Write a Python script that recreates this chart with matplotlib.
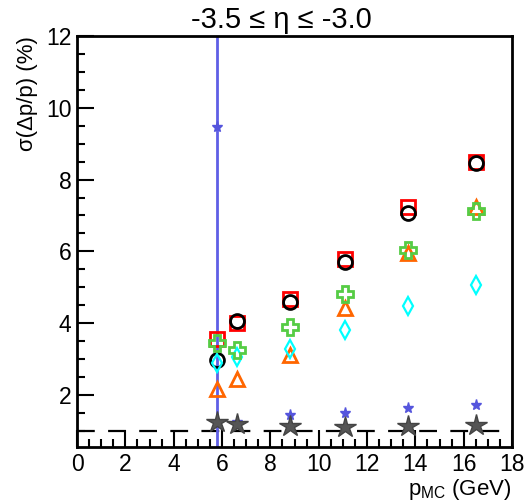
import matplotlib
matplotlib.use("Agg")
from matplotlib import pyplot as plt
from matplotlib.ticker import MultipleLocator

plt.rcParams['font.family'] = ['Liberation Sans', 'DejaVu Sans']
plt.rcParams['mathtext.fontset'] = 'custom'
plt.rcParams['mathtext.rm'] = 'Liberation Sans'

# momentum points (GeV)
p_mc = [5.8, 6.6, 8.8, 11.1, 13.7, 16.5]

# resolution sigma(dp/p) in %, one list per series
res_square = [3.55, 4.00, 4.68, 5.80, 7.23, 8.50]
res_circle = [2.97, 4.06, 4.60, 5.70, 7.08, 8.45]
res_cross = [3.44, 3.25, 3.90, 4.80, 6.03, 7.12]
res_triangle = [2.17, 2.44, 3.10, 4.43, 5.95, 7.23]
res_diamond = [2.90, 3.05, 3.28, 3.82, 4.48, 5.06]
res_smallstar = [9.47, 1.25, 1.44, 1.49, 1.63, 1.72]
res_bigstar = [1.26, 1.19, 1.14, 1.12, 1.14, 1.16]

# the first small-star point has a huge error bar
err_smallstar = [12.0, 0, 0, 0, 0, 0]

fig = plt.figure(figsize=(5.26, 5.03), dpi=100)
ax = fig.add_axes([0.1464, 0.1113, 0.8270, 0.8171])

ax.axhline(1.0, color='black', linewidth=1.6, dashes=(8, 6), zorder=1)

ax.errorbar(p_mc, res_smallstar, yerr=err_smallstar, fmt='none',
            ecolor='#5f5fe6', elinewidth=2, zorder=2)

ax.plot(p_mc, res_square, 's', markersize=10, markerfacecolor='none',
        markeredgecolor='#ff0000', markeredgewidth=2, zorder=3)
ax.plot(p_mc, res_circle, 'o', markersize=10, markerfacecolor='none',
        markeredgecolor='black', markeredgewidth=2, zorder=3)
ax.plot(p_mc, res_cross, 'P', markersize=11, markerfacecolor='none',
        markeredgecolor='#55cc44', markeredgewidth=2, zorder=4)
ax.plot(p_mc, res_triangle, '^', markersize=10, markerfacecolor='none',
        markeredgecolor='#ff6600', markeredgewidth=2, zorder=3)
ax.plot(p_mc, res_diamond, 'd', markersize=9, markerfacecolor='none',
        markeredgecolor='#00ffff', markeredgewidth=1.6, zorder=3)
ax.plot(p_mc, res_smallstar, '*', markersize=8, color='#5555dd', zorder=5)
ax.plot(p_mc, res_bigstar, '*', markersize=16, markerfacecolor='#555555',
        markeredgecolor='#444444', markeredgewidth=1, zorder=5)

ax.set_xlim(0, 18)
ax.set_ylim(0.55, 12)
ax.xaxis.set_major_locator(MultipleLocator(2))
ax.xaxis.set_minor_locator(MultipleLocator(0.5))
ax.yaxis.set_major_locator(MultipleLocator(2))
ax.yaxis.set_minor_locator(MultipleLocator(0.5))
ax.set_yticks([2, 4, 6, 8, 10, 12])

ax.tick_params(which='both', direction='in', top=False, right=False,
               labelsize=16.5, width=1.5)
ax.tick_params(which='major', length=12, pad=4)
ax.tick_params(which='minor', length=6)
for s in ax.spines.values():
    s.set_linewidth(2)

ax.set_title('-3.5 \u2264 \u03b7 \u2264 -3.0', fontsize=21, pad=6, x=0.469)
ax.set_xlabel(r'p$_{\rm MC}$ (GeV)', fontsize=16, ha='right', va='top')
ax.xaxis.set_label_coords(1.0, -0.072)
ax.set_ylabel('\u03c3(\u0394p/p) (%)', fontsize=16, loc='top', labelpad=6)

fig.savefig('out.png', dpi=100)
